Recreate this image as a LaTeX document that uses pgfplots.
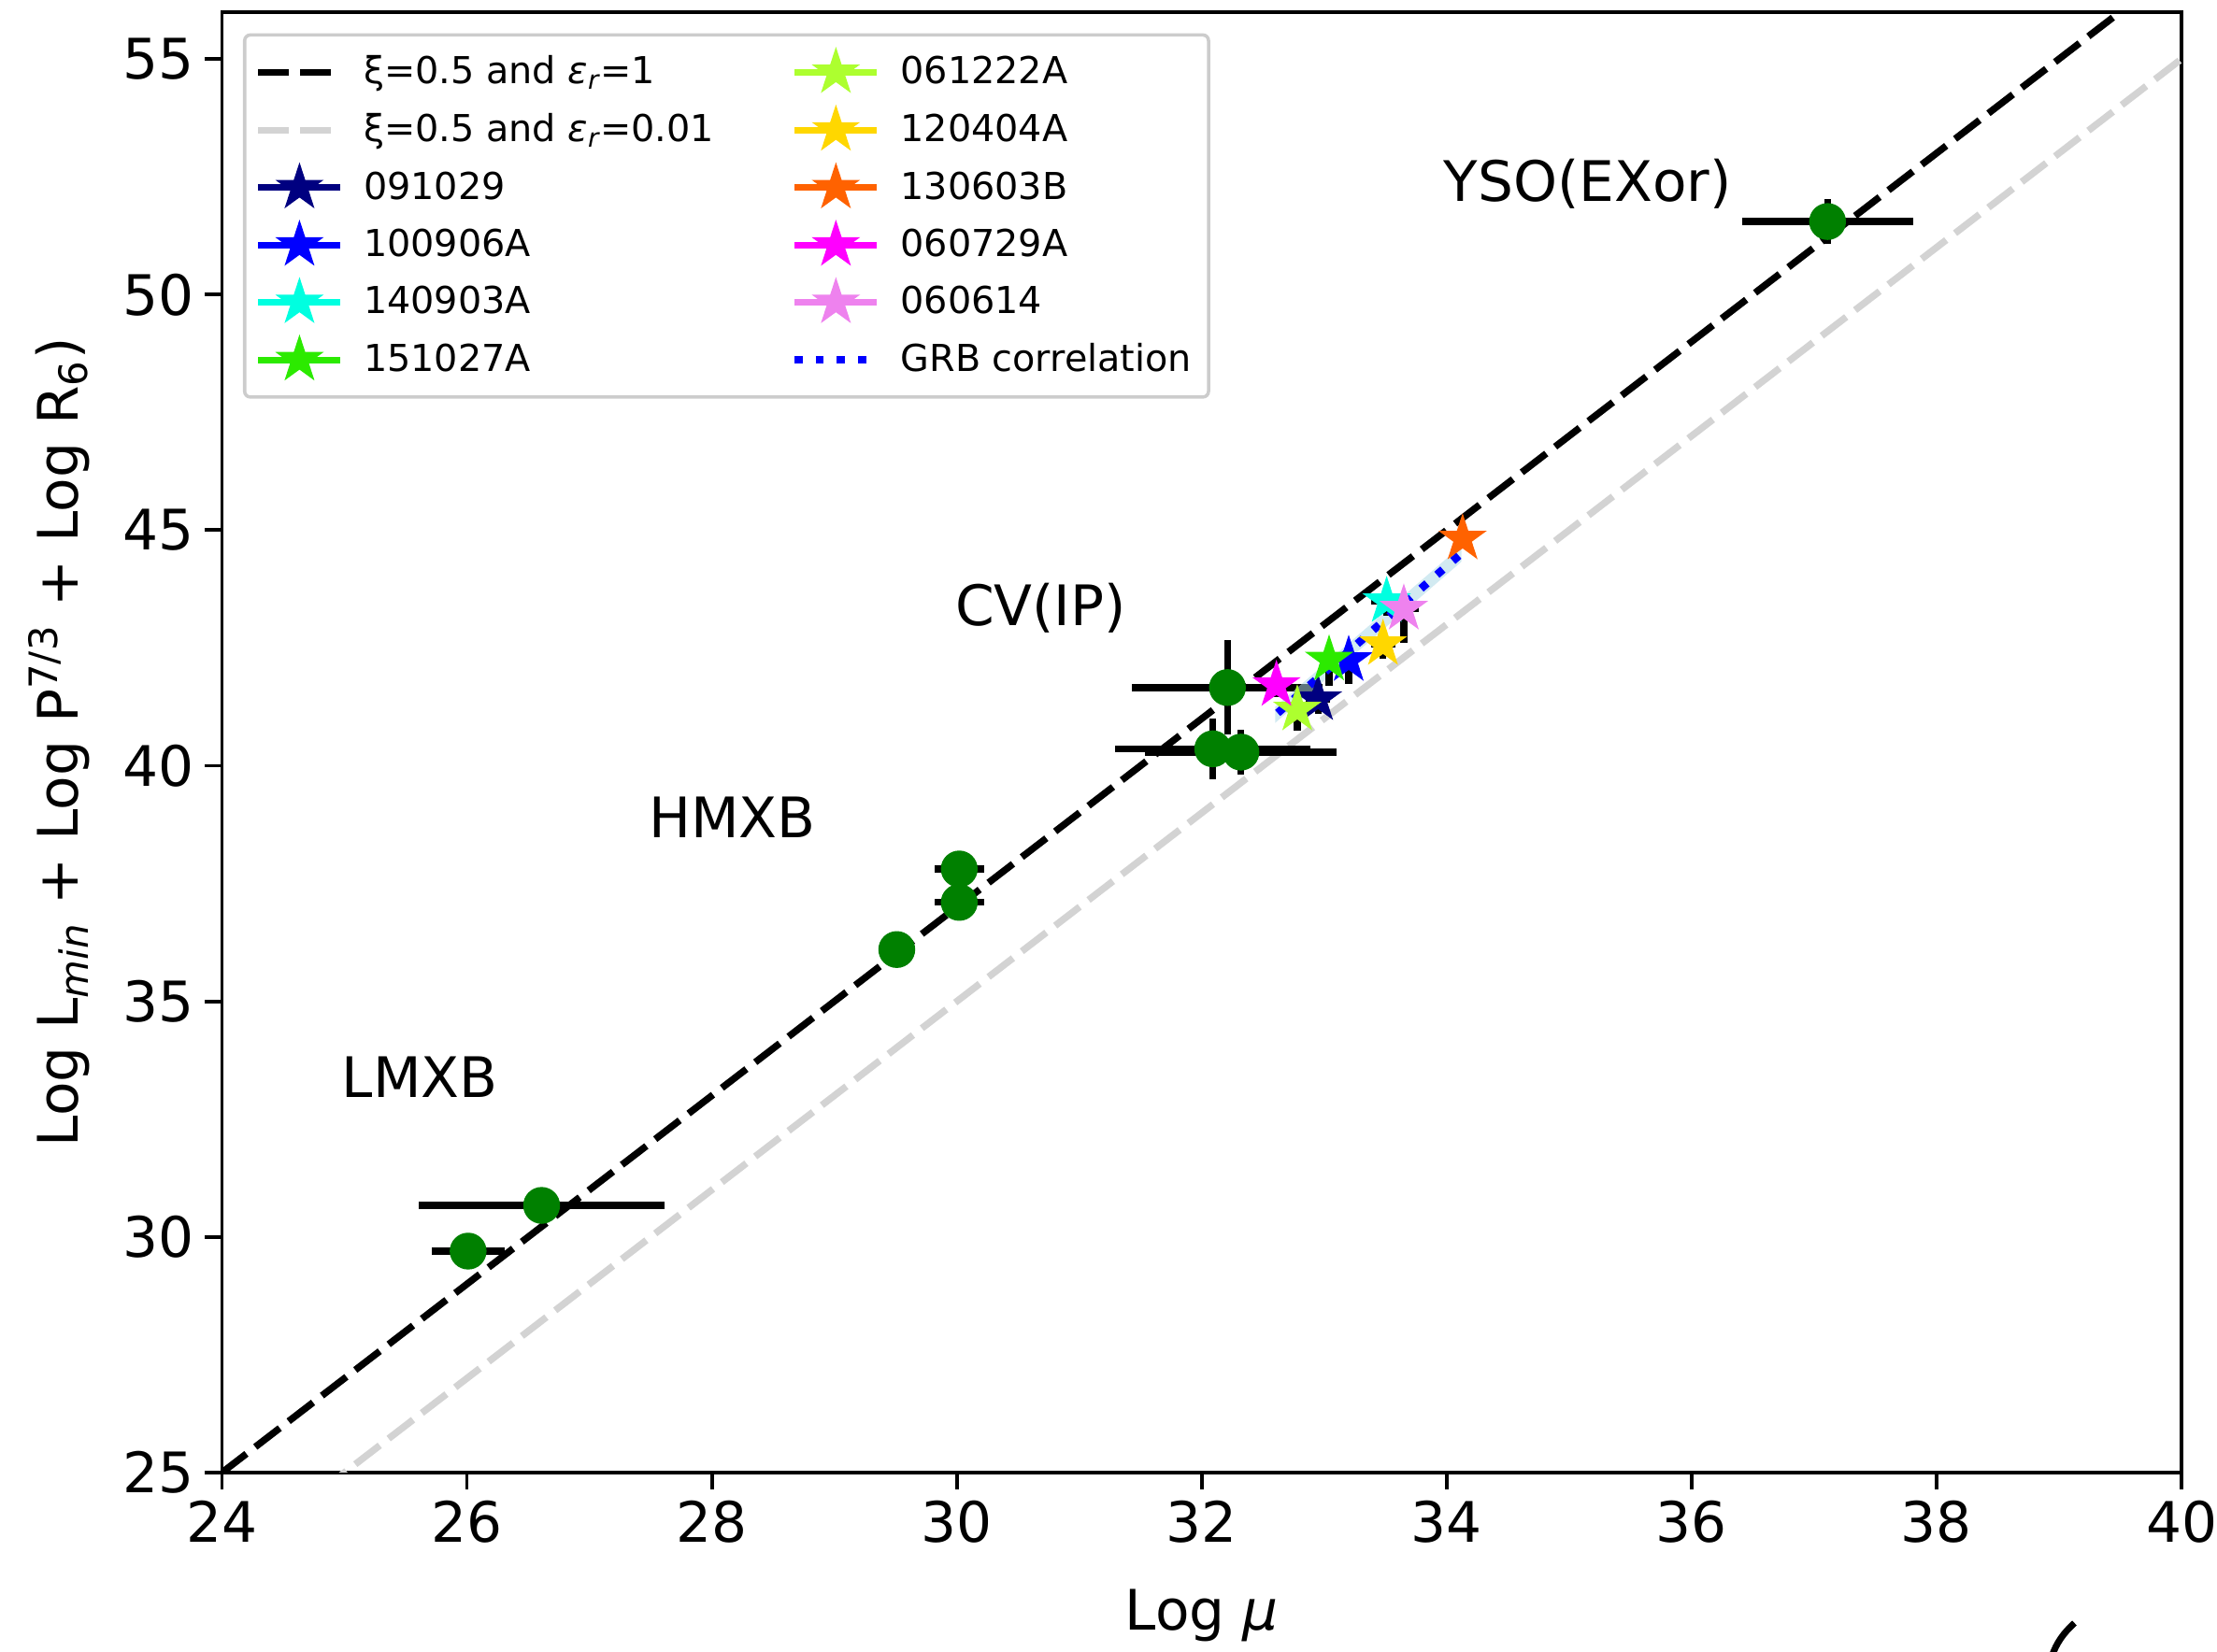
\documentclass[border=0pt]{standalone}
\usepackage{fontspec}
\setmainfont{DejaVu Sans}
\usepackage{pgfplots}
\usepackage{pgfplotstable}
\pgfplotsset{compat=1.18}

\newcommand{\ticksize}{\fontsize{17pt}{20pt}\selectfont}
\newcommand{\labsize}{\fontsize{17pt}{20pt}\selectfont}
\newcommand{\legsize}{\fontsize{11.3pt}{13.5pt}\selectfont}

\definecolor{cnavy}{HTML}{000080}
\definecolor{cblue}{HTML}{0000FF}
\definecolor{ccyan}{HTML}{00FFE0}
\definecolor{cgreen}{HTML}{2CEA00}
\definecolor{cgyellow}{HTML}{ADFF2F}
\definecolor{cgold}{HTML}{FFD700}
\definecolor{corange}{HTML}{FF6200}
\definecolor{cmagenta}{HTML}{FF00FF}
\definecolor{cviolet}{HTML}{EE82EE}
\definecolor{cdark}{HTML}{008000}
\definecolor{cband}{HTML}{ADD8E6}
\definecolor{cgray}{HTML}{D3D3D3}

% filled five-pointed star
\pgfdeclareplotmark{mstar}{%
  \pgfpathmoveto{\pgfpointpolar{90}{\pgfplotmarksize}}%
  \pgfpathlineto{\pgfpointpolar{126}{0.382*\pgfplotmarksize}}%
  \pgfpathlineto{\pgfpointpolar{162}{\pgfplotmarksize}}%
  \pgfpathlineto{\pgfpointpolar{198}{0.382*\pgfplotmarksize}}%
  \pgfpathlineto{\pgfpointpolar{234}{\pgfplotmarksize}}%
  \pgfpathlineto{\pgfpointpolar{270}{0.382*\pgfplotmarksize}}%
  \pgfpathlineto{\pgfpointpolar{306}{\pgfplotmarksize}}%
  \pgfpathlineto{\pgfpointpolar{342}{0.382*\pgfplotmarksize}}%
  \pgfpathlineto{\pgfpointpolar{18}{\pgfplotmarksize}}%
  \pgfpathlineto{\pgfpointpolar{54}{0.382*\pgfplotmarksize}}%
  \pgfpathclose
  \pgfusepathqfillstroke
}

% accreting sources: Log mu, Log(...), errors
\pgfplotstableread{
x      y      ex    ey
26.01  29.70  0.30  0
26.61  30.67  1.00  0
29.51  36.10  0     0
30.02  37.81  0.20  0
30.02  37.10  0.20  0
32.21  41.66  0.78  1.00
32.09  40.36  0.80  0.65
32.32  40.29  0.78  0.48
37.11  51.55  0.70  0.48
}\srcdata

\pgfplotsset{
  grbstar/.style={only marks, mark=mstar, mark size=0.25cm,
    mark options={solid, fill=#1, draw=#1, line width=0.4pt},
    error bars/.cd, x dir=both, x explicit, y dir=both, y explicit,
    error mark=none, error bar style={black, line width=2.1pt}},
  legstar/.style={color=#1, line width=2pt, mark=mstar, mark size=0.25cm,
    mark options={solid, fill=#1, draw=#1, line width=0.4pt}},
  mldash/.style={line width=2.1pt, dash pattern=on 0.33cm off 0.12cm},
}

\begin{document}
\begin{tikzpicture}
\useasboundingbox (-2.375,-1.92) rectangle (21.345,15.76);
\begin{axis}[
  at={(0,0)}, anchor=south west,
  scale only axis, width=20.965cm, height=15.633cm,
  xmin=24, xmax=40, ymin=25, ymax=56,
  xtick={24,26,...,40}, ytick={25,30,...,55},
  tick align=outside, tick pos=left,
  major tick length=0.18cm,
  every tick/.style={black, line width=1.1pt},
  axis line style={line width=1.1pt},
  /pgf/number format/assume math mode=true,
  tick label style={font=\ticksize},
  xlabel={Log {\itshape μ}},
  ylabel={Log L\textsubscript{\itshape min} + Log P\textsuperscript{7/3} + Log R\textsubscript{6})},
  label style={font=\labsize},
  x label style={at={(axis description cs:0.5,-0.0979)}, anchor=center},
  y label style={at={(axis description cs:-0.083,0.5)}, anchor=center},
  legend image code/.code={%
    \draw[mark repeat=2, mark phase=2, #1] plot coordinates {(0cm,0cm) (0.44cm,0cm) (0.88cm,0cm)};},
  legend style={
    at={(axis description cs:0,1)}, anchor=north west,
    xshift=0.225cm, yshift=-0.23cm,
    draw=black!20, line width=1pt, rounded corners=0.06cm, fill=white,
    font=\legsize, legend columns=2, legend cell align=left,
    inner xsep=0.11cm, inner ysep=0.15cm, row sep=0.12cm,
    /tikz/every odd column/.append style={column sep=0.14cm},
    /tikz/every even column/.append style={column sep=0.75cm},
  },
]
% legend entries, row by row
\addlegendimage{black, mldash}
\addlegendentry{ξ=0.5 and {\itshape ε}\textsubscript{\itshape r}=1}
\addlegendimage{legstar=cgyellow}
\addlegendentry{061222A}
\addlegendimage{cgray, mldash}
\addlegendentry{ξ=0.5 and {\itshape ε}\textsubscript{\itshape r}=0.01}
\addlegendimage{legstar=cgold}
\addlegendentry{120404A}
\addlegendimage{legstar=cnavy}
\addlegendentry{091029}
\addlegendimage{legstar=corange}
\addlegendentry{130603B}
\addlegendimage{legstar=cblue}
\addlegendentry{100906A}
\addlegendimage{legstar=cmagenta}
\addlegendentry{060729A}
\addlegendimage{legstar=ccyan}
\addlegendentry{140903A}
\addlegendimage{legstar=cviolet}
\addlegendentry{060614}
\addlegendimage{legstar=cgreen}
\addlegendentry{151027A}
\addlegendimage{cblue, line width=2.42pt, dash pattern=on 2.42pt off 4pt}
\addlegendentry{GRB correlation\hspace{0.1cm}}

% model relations
\addplot[forget plot, black, mldash] coordinates {(24,25) (40,57)};
\addplot[forget plot, cgray, mldash] coordinates {(24,23) (40,55)};

% accreting sources
\addplot[forget plot, only marks, mark=*, mark size=0.19cm,
  mark options={fill=cdark, draw=cdark, line width=0.4pt},
  error bars/.cd, x dir=both, x explicit, y dir=both, y explicit,
  error mark=none, error bar style={black, line width=2.1pt}]
  table[x=x, y=y, x error=ex, y error=ey] {\srcdata};

% uncertainty band of the GRB fit
\addplot[forget plot, draw=none, fill=cband, fill opacity=0.55]
  coordinates {(32.60,41.25) (34.12,44.67) (34.12,44.33) (32.60,40.91) (32.60,41.25)};

% GRBs
\addplot[forget plot, grbstar=cnavy] coordinates {(32.95,41.41) += (0.10,0.20) -= (0.10,0.30)};
\addplot[forget plot, grbstar=cblue] coordinates {(33.20,42.24) += (0.05,0.15) -= (0.05,0.50)};
\addplot[forget plot, grbstar=ccyan] coordinates {(33.51,43.49) += (0.13,0.15) -= (0.13,0.30)};
\addplot[forget plot, grbstar=cgreen] coordinates {(33.04,42.25) += (0.05,0.15) -= (0.05,0.55)};
\addplot[forget plot, grbstar=cgyellow] coordinates {(32.78,41.19) += (0.05,0.20) -= (0.05,0.45)};
\addplot[forget plot, grbstar=cgold] coordinates {(33.48,42.58) += (0.10,0.20) -= (0.10,0.30)};
\addplot[forget plot, grbstar=corange] coordinates {(34.13,44.82) += (0,0) -= (0,0)};
\addplot[forget plot, grbstar=cmagenta] coordinates {(32.61,41.71) += (0.10,0.20) -= (0.10,0.25)};
\addplot[forget plot, grbstar=cviolet] coordinates {(33.65,43.33) += (0.12,0.10) -= (0.12,0.73)};

% GRB correlation
\addplot[forget plot, cblue, line width=2.42pt, dash pattern=on 2.42pt off 4pt]
  coordinates {(32.62,41.12) (34.10,44.46)};

% class labels
\node[font=\labsize] at (axis cs:35.153,52.35) {YSO(EXor)};
\node[font=\labsize] at (axis cs:30.685,43.35) {CV(IP)};
\node[font=\labsize] at (axis cs:28.168,38.91) {HMXB};
\node[font=\labsize] at (axis cs:25.616,33.39) {LMXB};
\end{axis}
\draw[line width=2pt] (19.82,-1.61) .. controls (19.70,-1.72) and (19.63,-1.82) .. (19.58,-1.96);
\end{tikzpicture}
\end{document}
